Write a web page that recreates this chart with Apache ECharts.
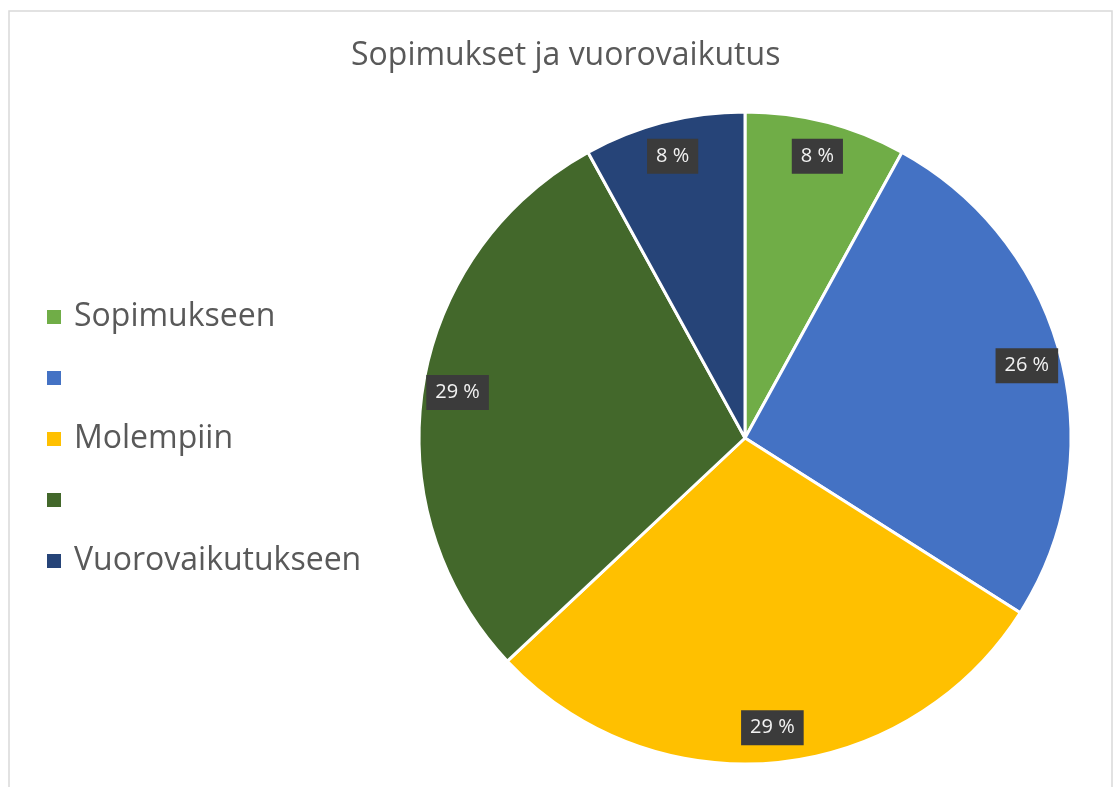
<!DOCTYPE html>
<html>
<head>
<meta charset="utf-8">
<script src="https://cdn.jsdelivr.net/npm/echarts@6/dist/echarts.min.js"></script>
<style>
  html, body { margin: 0; padding: 0; background: #fff; }
  #main { width: 1113px; height: 787px; }
</style>
</head>
<body>
<div id="main"></div>
<script>
// chart data
var titleText = 'Sopimukset ja vuorovaikutus';
var categories = ['Sopimukseen', '', 'Molempiin', '', 'Vuorovaikutukseen'];
var values = [8, 26, 29, 29, 8];
var colors = ['#70AD47', '#4472C4', '#FFC000', '#43682B', '#264478'];

// unique keys, because two legend entries have no text
var keys = categories.map(function (c, i) { return c || ('#' + i); });

var pieData = keys.map(function (k, i) {
    return { name: k, value: values[i], itemStyle: { color: colors[i] } };
});
var labelData = keys.map(function (k, i) {
    return { name: k, value: values[i] };
});

var myChart = echarts.init(document.getElementById('main'));

var option = {
    animation: false,
    graphic: [{
        type: 'rect',
        shape: { x: 9, y: 11, width: 1103, height: 800 },
        style: { fill: 'none', stroke: '#d9d9d9', lineWidth: 1.5 },
        z: -1
    }],
    title: {
        text: titleText,
        left: 346,
        top: 35,
        textStyle: {
            fontFamily: 'Open Sans',
            fontSize: 32,
            fontWeight: 'normal',
            color: '#595959'
        }
    },
    legend: {
        orient: 'vertical',
        left: 45,
        top: 301,
        padding: 0,
        itemWidth: 16,
        itemHeight: 16,
        itemGap: 29,
        selectedMode: false,
        icon: 'rect',
        data: keys,
        formatter: function (name) {
            var i = keys.indexOf(name);
            return categories[i] || ' ';
        },
        textStyle: {
            fontFamily: 'Open Sans',
            fontSize: 32,
            lineHeight: 32,
            color: '#595959',
            padding: [0, 0, 0, 7]
        }
    },
    series: [{
        name: 'pie',
        type: 'pie',
        center: [745, 438],
        radius: [0, 326],
        startAngle: 90,
        clockwise: true,
        silent: true,
        label: { show: false },
        labelLine: { show: false },
        itemStyle: { borderColor: '#fff', borderWidth: 3 },
        data: pieData
    }, {
        name: 'labels',
        type: 'pie',
        center: [745, 438],
        radius: [250, 326],
        startAngle: 90,
        clockwise: true,
        silent: true,
        legendHoverLink: false,
        itemStyle: { color: 'rgba(0,0,0,0)' },
        label: {
            show: true,
            position: 'inside',
            rotate: 0,
            formatter: '{c} %',
            fontFamily: 'Open Sans',
            fontSize: 20,
            color: '#f2f2f2',
            backgroundColor: '#3b3b3b',
            padding: [8, 9, 7, 9]
        },
        labelLine: { show: false },
        data: labelData
    }]
};
myChart.setOption(option);
</script>
</body>
</html>
